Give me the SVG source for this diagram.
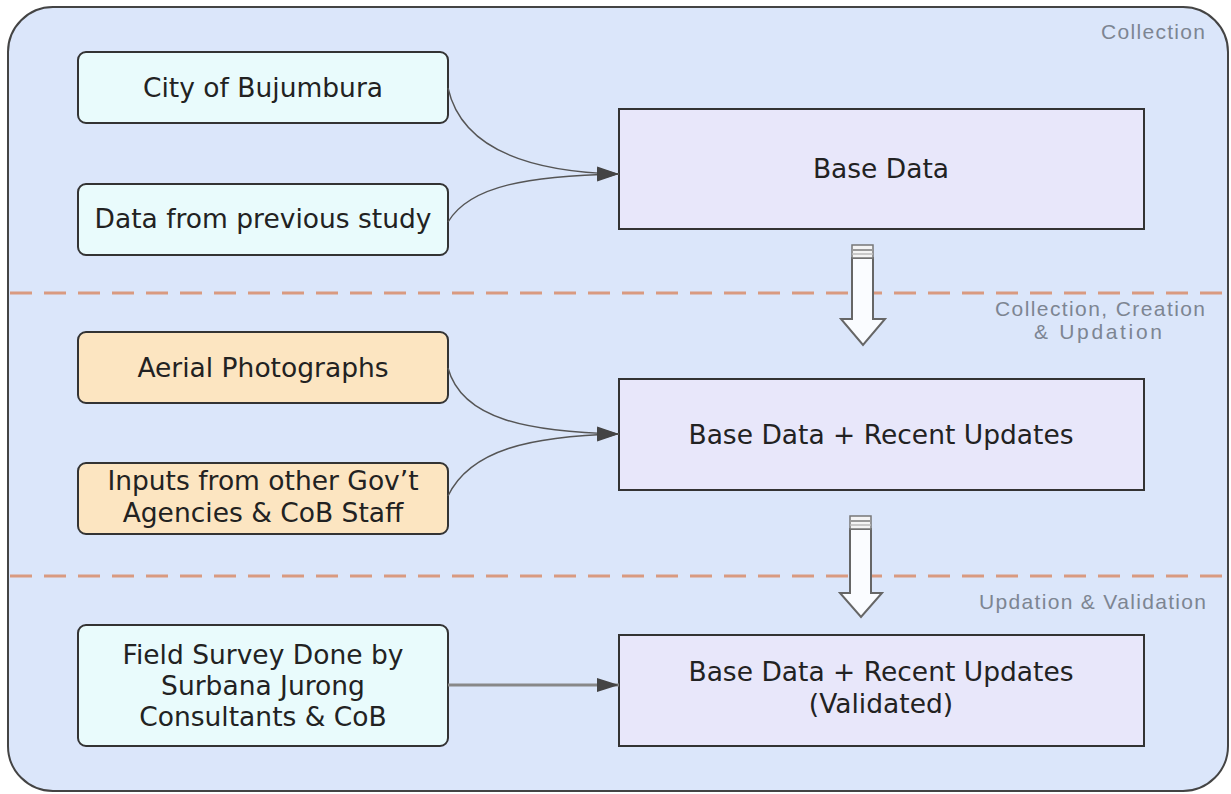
<svg xmlns="http://www.w3.org/2000/svg" width="1231" height="794" viewBox="0 0 1231 794">
<style>
.lbl{font-family:"DejaVu Sans",Verdana,sans-serif;font-size:26.5px;fill:#222;text-anchor:middle}
.zone{font-family:"Liberation Sans",Arial,sans-serif;font-size:21px;fill:#7d8592;text-anchor:end}
.cyan{fill:#e9fbfc;stroke:#333;stroke-width:2}
.orange{fill:#fce5c1;stroke:#333;stroke-width:2}
.lav{fill:#e8e7fa;stroke:#333;stroke-width:2}
.curve{fill:none;stroke:#555;stroke-width:1.4}
.sep{stroke:#d99a80;stroke-width:3;stroke-dasharray:22 12}
.hollow{fill:#fafcff;stroke:#666;stroke-width:2}
</style>
<defs>
<marker id="ah" markerWidth="22" markerHeight="16" refX="22" refY="8" orient="auto" markerUnits="userSpaceOnUse">
<path d="M0,1 L22,8 L0,15 Z" fill="#444"/>
</marker>
</defs>
<rect x="8" y="7" width="1220" height="784" rx="45" fill="#dbe6fa" stroke="#444" stroke-width="2"/>
<g id="zones">
<line class="sep" x1="10" y1="293" x2="1226" y2="293"/>
<line class="sep" x1="10" y1="576" x2="1226" y2="576"/>
<text class="zone" x="1205" y="39" textLength="104" lengthAdjust="spacing">Collection</text>
<text class="zone" x="1205" y="316" textLength="210" lengthAdjust="spacing">Collection, Creation</text>
<text class="zone" x="1162" y="339" textLength="128" lengthAdjust="spacing">&amp; Updation</text>
<text class="zone" x="1206" y="609" textLength="227" lengthAdjust="spacing">Updation &amp; Validation</text>
</g>
<g id="n-city"><rect class="cyan" x="78" y="52" width="370" height="71" rx="8"/><text class="lbl" x="263" y="97">City of Bujumbura</text></g>
<g id="n-prev"><rect class="cyan" x="78" y="184" width="370" height="71" rx="8"/><text class="lbl" x="263" y="228">Data from previous study</text></g>
<g id="n-aerial"><rect class="orange" x="78" y="332" width="370" height="71" rx="8"/><text class="lbl" x="263" y="377">Aerial Photographs</text></g>
<g id="n-inputs"><rect class="orange" x="78" y="463" width="370" height="71" rx="8"/><text class="lbl" x="263" y="490">Inputs from other Gov’t</text><text class="lbl" x="263" y="522">Agencies &amp; CoB Staff</text></g>
<g id="n-field"><rect class="cyan" x="78" y="625" width="370" height="121" rx="8"/><text class="lbl" x="263" y="664">Field Survey Done by</text><text class="lbl" x="263" y="695">Surbana Jurong</text><text class="lbl" x="263" y="726">Consultants &amp; CoB</text></g>
<g id="n-base"><rect class="lav" x="619" y="109" width="525" height="120"/><text class="lbl" x="881" y="178">Base Data</text></g>
<g id="n-recent"><rect class="lav" x="619" y="379" width="525" height="111"/><text class="lbl" x="881" y="444">Base Data + Recent Updates</text></g>
<g id="n-valid"><rect class="lav" x="619" y="635" width="525" height="111"/><text class="lbl" x="881" y="681">Base Data + Recent Updates</text><text class="lbl" x="881" y="713">(Validated)</text></g>
<g id="connectors">
<path class="curve" d="M448,88 C462,150 530,172 619,174" marker-end="url(#ah)"/>
<path class="curve" d="M448,222 C470,185 530,176 619,174" marker-end="url(#ah)"/>
<path class="curve" d="M448,368 C462,420 530,432 619,434" marker-end="url(#ah)"/>
<path class="curve" d="M448,496 C470,450 530,436 619,434" marker-end="url(#ah)"/>
<line x1="448" y1="685" x2="619" y2="685" stroke="#888" stroke-width="3" marker-end="url(#ah)"/>
<g id="flow1">
<path class="hollow" d="M852,258 L873,258 L873,319 L885,319 L863,345 L841,319 L852,319 Z"/>
<rect x="852" y="245" width="21" height="13" fill="#f4f4f4" stroke="#777" stroke-width="1.5"/>
<line x1="852" y1="250" x2="873" y2="250" stroke="#999" stroke-width="2"/>
<line x1="852" y1="254" x2="873" y2="254" stroke="#bbb" stroke-width="1.5"/>
</g>
<g id="flow2">
<path class="hollow" d="M850,529 L871,529 L871,593 L882,593 L861,617 L840,593 L850,593 Z"/>
<rect x="850" y="516" width="21" height="13" fill="#f4f4f4" stroke="#777" stroke-width="1.5"/>
<line x1="850" y1="521" x2="871" y2="521" stroke="#999" stroke-width="2"/>
<line x1="850" y1="525" x2="871" y2="525" stroke="#bbb" stroke-width="1.5"/>
</g>
</g>
</svg>
